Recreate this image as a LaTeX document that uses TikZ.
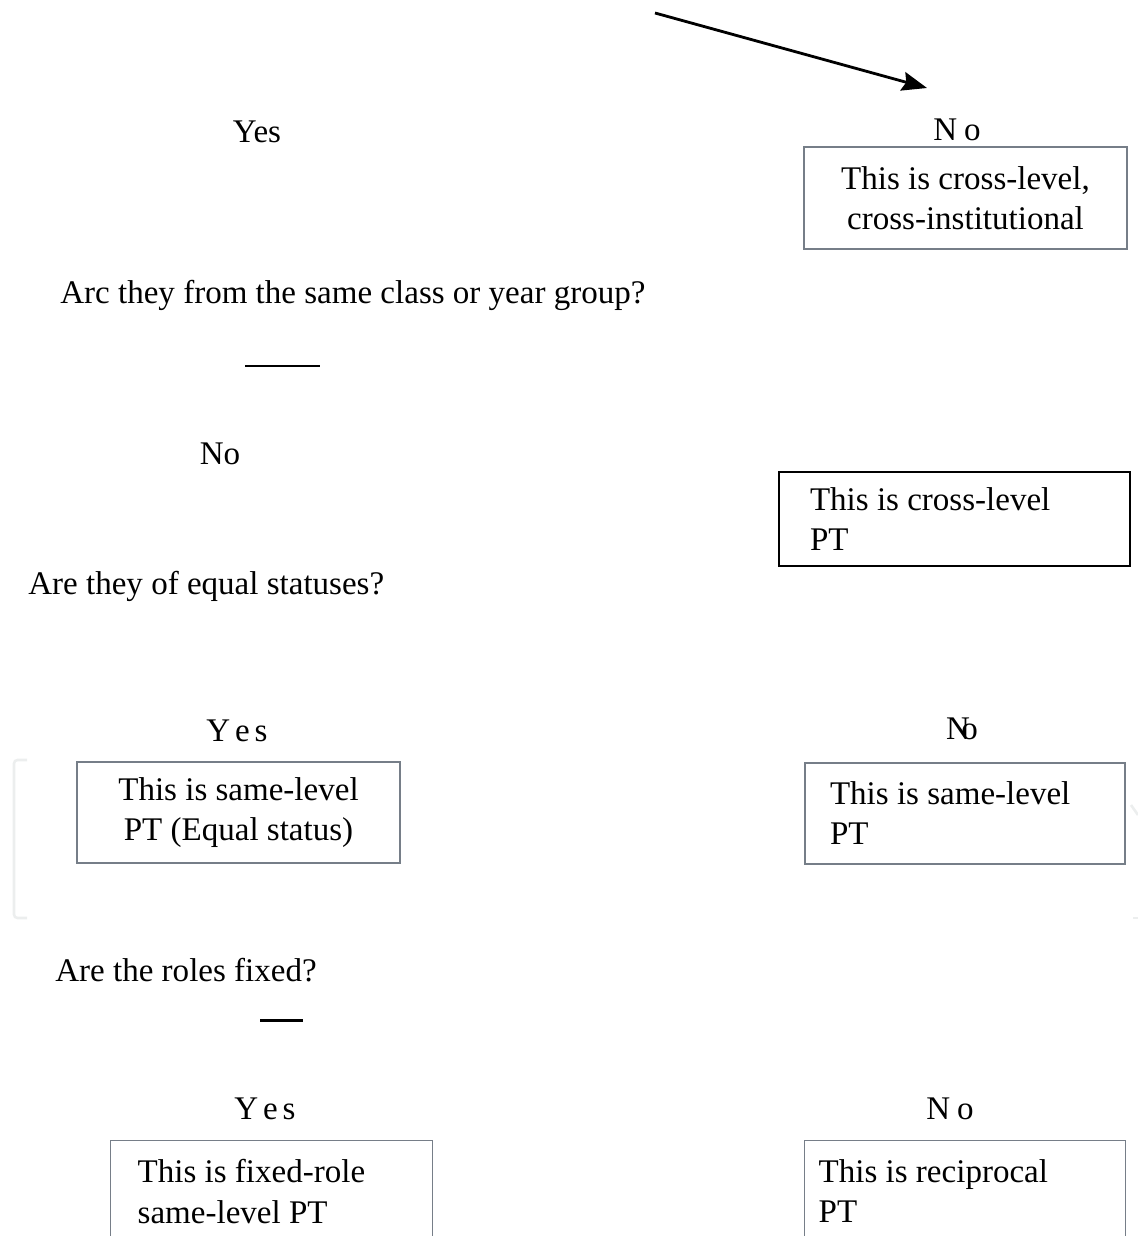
\documentclass[tikz,border=0pt]{standalone}
\usepackage{fontspec}
\setmainfont{Liberation Serif}
\usetikzlibrary{arrows.meta}
\definecolor{boxgray}{RGB}{118,126,136}
\definecolor{ghost}{RGB}{236,238,238}
\newcommand\natsp{\spaceskip=0pt\xspaceskip=0pt}

\begin{document}
\begin{tikzpicture}[x=0.02cm,y=-0.02cm,
    every node/.style={font=\fontsize{18.8}{22.8}\selectfont,inner sep=0pt},
    answer/.style={anchor=base},
    question/.style={anchor=base west},
    outcome/.style={rectangle,draw=boxgray,line width=0.8pt},
    stub/.style={line width=1.7pt}]
    \useasboundingbox (0,0) rectangle (1138,1236);
    \clip (0,0) rectangle (1138,1236);

    % arrow coming in from above
    \coordinate (arrowtail) at (655,13);
    \coordinate (arrowhead) at (927,88);
    \draw[line width=1.6pt,-{Stealth[length=0.5cm,width=0.38cm,inset=0.07cm]}] (arrowtail) -- (arrowhead);

    \path
    (257,143)node[answer](yes1){Yes}
    (957,141)node[answer](no1){N\kern4pt o}
    (965.5,198)node[outcome,minimum width=6.46cm,minimum height=2.04cm,align=center](crossinst){This is cross-level,\\cross-institutional}
    (60,304)node[question](qclass){Arc they from the same class or year group?}
    (220,464)node[answer](no2){No}
    (954.5,519)node[outcome,draw=black,line width=1.6pt,minimum width=7.02cm,minimum height=1.88cm,text width=5.78cm,inner xsep=0.62cm,align=left](crosslevel){\natsp This is cross-level\\PT}
    (28,594)node[question](qstatus){Are they of equal statuses?}
    (237,741)node[answer](yes2){Y\kern2.8pt e\kern2.8pt s}
    (962,739)node[answer](no3){N\kern-5pt o}
    (238.5,812.5)node[outcome,minimum width=6.46cm,minimum height=2.02cm,align=center](samequal){This is same-level\\PT (Equal status)}
    (965,813.5)node[outcome,minimum width=6.4cm,minimum height=2.02cm,text width=5.4cm,inner xsep=0.5cm,align=left](samelevel){\natsp This is same-level\\PT}
    (55,981)node[question](qroles){Are the roles fixed?}
    (265,1119)node[answer](yes3){Y\kern2.8pt e\kern2.8pt s}
    (950,1119)node[answer](no4){N\kern4pt o}
    (110,1140)node[outcome,anchor=north west,text width=5.36cm,inner xsep=0.54cm,inner ysep=0.38cm,align=left](fixedrole){\natsp This is fixed-role\\same-level PT}
    (804,1140)node[outcome,anchor=north west,text width=5.86cm,inner xsep=0.28cm,inner ysep=0.38cm,align=left](reciprocal){\natsp This is reciprocal\\PT}
    ;

    % short rules under the questions
    \draw[stub] (245,366) -- (320,366);
    \draw[stub] (260,1020) -- (303,1020);

    % faint marks at the page edges
    \draw[ghost,line width=1.5pt,rounded corners=2pt] (27,760) -- (14,760) -- (14,918) -- (27,918);
    \draw[ghost,line width=1.5pt] (1131,805) -- (1138,815);
    \draw[ghost,line width=1.5pt] (1133,918) -- (1138,918);
\end{tikzpicture}
\end{document}
